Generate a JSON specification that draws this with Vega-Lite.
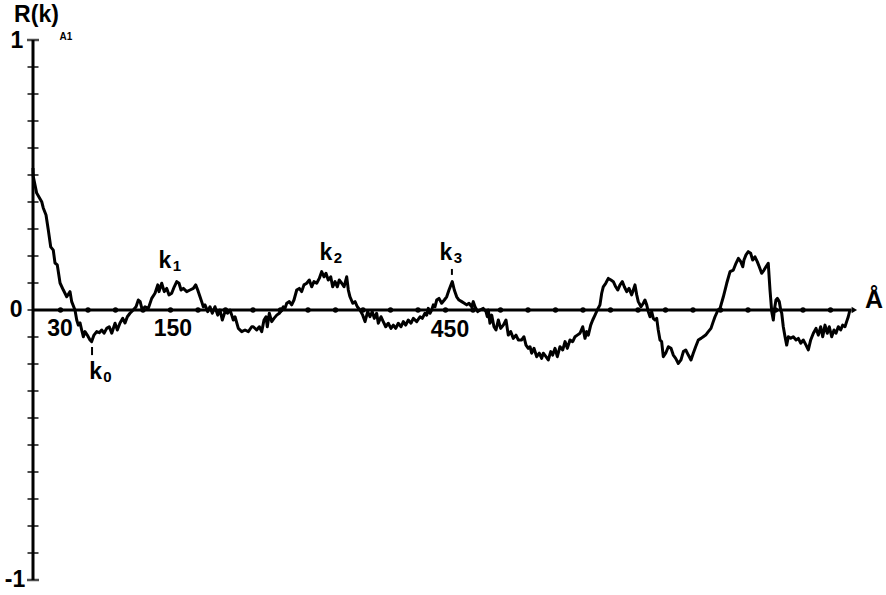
{
  "$schema": "https://vega.github.io/schema/vega-lite/v6.json",
  "width": 825,
  "height": 540,
  "autosize": {"type": "none"},
  "padding": {"left": 33, "top": 40, "right": 28, "bottom": 15},
  "background": "white",
  "config": {"view": {"stroke": null}, "text": {"font": "Liberation Sans", "fontWeight": "bold", "color": "black"}},
  "datasets": {
    "curve": [
      {"k":0,"R":0.526},{"k":0.3,"R":0.494},{"k":4.0,"R":0.433},{"k":9.5,"R":0.401},{"k":11.2,"R":0.378},{"k":14.2,"R":0.352},{"k":16.7,"R":0.296},{"k":19.3,"R":0.234},{"k":22.1,"R":0.222},{"k":24.0,"R":0.174},{"k":26.5,"R":0.167},{"k":29.5,"R":0.1},{"k":33.1,"R":0.074},{"k":36.8,"R":0.049},{"k":40.4,"R":0.068},{"k":42.2,"R":0.031},{"k":45.8,"R":0},{"k":47.7,"R":-0.037},{"k":49.4,"R":-0.056},{"k":51.3,"R":-0.048},{"k":53.1,"R":-0.074},{"k":54.9,"R":-0.099},{"k":56.7,"R":-0.08},{"k":59.2,"R":-0.093},{"k":62.2,"R":-0.111},{"k":64.0,"R":-0.117},{"k":66.5,"R":-0.093},{"k":69.5,"R":-0.08},{"k":72.3,"R":-0.084},{"k":74.9,"R":-0.074},{"k":77.5,"R":-0.086},{"k":80.4,"R":-0.068},{"k":83.2,"R":-0.062},{"k":85.9,"R":-0.086},{"k":89.5,"R":-0.049},{"k":92.0,"R":-0.074},{"k":94.9,"R":-0.048},{"k":97.9,"R":-0.031},{"k":100.4,"R":-0.048},{"k":102.9,"R":-0.025},{"k":105.8,"R":-0.012},{"k":109.4,"R":0},{"k":112.4,"R":0.012},{"k":114.9,"R":0.037},{"k":116.9,"R":0.031},{"k":119.2,"R":0},{"k":122.2,"R":0.012},{"k":125.8,"R":0.006},{"k":129.5,"R":0.043},{"k":133.1,"R":0.062},{"k":136.1,"R":0.093},{"k":137.5,"R":0.068},{"k":140.4,"R":0.099},{"k":143.2,"R":0.068},{"k":145.9,"R":0.08},{"k":148.4,"R":0.056},{"k":151.3,"R":0.062},{"k":154.1,"R":0.086},{"k":156.8,"R":0.105},{"k":159.3,"R":0.099},{"k":161.5,"R":0.074},{"k":164.0,"R":0.08},{"k":167.7,"R":0.068},{"k":171.3,"R":0.074},{"k":174.9,"R":0.08},{"k":177.5,"R":0.093},{"k":179.7,"R":0.074},{"k":182.2,"R":0.049},{"k":184.0,"R":0.031},{"k":185.8,"R":0.012},{"k":187.6,"R":0.019},{"k":190.6,"R":-0.006},{"k":193.1,"R":0.012},{"k":195.6,"R":-0.012},{"k":198.5,"R":0.012},{"k":201.5,"R":-0.019},{"k":204.0,"R":0},{"k":206.5,"R":-0.037},{"k":209.5,"R":-0.006},{"k":212.4,"R":-0.012},{"k":214.9,"R":0},{"k":216.8,"R":-0.019},{"k":218.5,"R":-0.037},{"k":220.4,"R":-0.025},{"k":224.0,"R":-0.068},{"k":227.7,"R":-0.08},{"k":231.3,"R":-0.074},{"k":234.9,"R":-0.08},{"k":238.6,"R":-0.062},{"k":240.3,"R":-0.062},{"k":244.0,"R":-0.074},{"k":246.9,"R":-0.062},{"k":249.5,"R":-0.08},{"k":252.0,"R":-0.037},{"k":254.2,"R":-0.025},{"k":255.6,"R":-0.062},{"k":257.8,"R":-0.012},{"k":260.4,"R":-0.043},{"k":262.9,"R":-0.031},{"k":265.9,"R":-0.019},{"k":268.7,"R":-0.012},{"k":271.3,"R":0},{"k":273.1,"R":0.012},{"k":274.9,"R":0.006},{"k":276.8,"R":0.025},{"k":279.6,"R":0.031},{"k":282.2,"R":0.019},{"k":284.7,"R":0.037},{"k":287.7,"R":0.074},{"k":290.5,"R":0.08},{"k":293.1,"R":0.068},{"k":295.6,"R":0.093},{"k":298.6,"R":0.099},{"k":301.4,"R":0.111},{"k":304.0,"R":0.086},{"k":306.5,"R":0.105},{"k":309.5,"R":0.099},{"k":312.3,"R":0.117},{"k":314.9,"R":0.142},{"k":317.5,"R":0.123},{"k":319.6,"R":0.136},{"k":322.1,"R":0.111},{"k":324.8,"R":0.123},{"k":326.9,"R":0.086},{"k":329.5,"R":0.105},{"k":332.0,"R":0.086},{"k":334.1,"R":0.111},{"k":336.8,"R":0.099},{"k":339.3,"R":0.086},{"k":342.2,"R":0.123},{"k":344.0,"R":0.074},{"k":345.8,"R":0.049},{"k":348.8,"R":0.025},{"k":351.3,"R":0.031},{"k":353.8,"R":0.012},{"k":356.7,"R":0},{"k":359.7,"R":-0.019},{"k":362.2,"R":-0.043},{"k":365.1,"R":-0.006},{"k":367.6,"R":-0.025},{"k":370.1,"R":-0.006},{"k":372.3,"R":-0.031},{"k":374.9,"R":-0.012},{"k":376.7,"R":-0.049},{"k":379.6,"R":-0.025},{"k":382.1,"R":-0.043},{"k":384.8,"R":-0.062},{"k":387.6,"R":-0.049},{"k":390.5,"R":-0.068},{"k":393.1,"R":-0.056},{"k":395.7,"R":-0.068},{"k":398.5,"R":-0.049},{"k":401.5,"R":-0.062},{"k":404.0,"R":-0.043},{"k":406.6,"R":-0.056},{"k":409.4,"R":-0.037},{"k":412.4,"R":-0.049},{"k":414.9,"R":-0.031},{"k":418.6,"R":-0.043},{"k":422.2,"R":-0.025},{"k":424.7,"R":-0.031},{"k":427.6,"R":-0.012},{"k":429.5,"R":-0.019},{"k":431.2,"R":0.006},{"k":433.1,"R":-0.012},{"k":434.9,"R":0},{"k":436.7,"R":0.019},{"k":438.5,"R":0.012},{"k":440.4,"R":0.037},{"k":442.9,"R":0.043},{"k":445.8,"R":0.025},{"k":448.7,"R":0.037},{"k":451.3,"R":0.049},{"k":453.8,"R":0.074},{"k":456.0,"R":0.093},{"k":457.4,"R":0.105},{"k":459.6,"R":0.074},{"k":462.2,"R":0.049},{"k":464.7,"R":0.037},{"k":467.7,"R":0.031},{"k":470.5,"R":0.025},{"k":473.1,"R":0.019},{"k":475.6,"R":0.025},{"k":478.6,"R":0.012},{"k":480.3,"R":0.031},{"k":482.2,"R":0.012},{"k":485.1,"R":-0.006},{"k":487.6,"R":0},{"k":491.2,"R":0.006},{"k":494.2,"R":-0.006},{"k":495.6,"R":-0.025},{"k":496.7,"R":0},{"k":498.5,"R":-0.049},{"k":500.4,"R":-0.019},{"k":502.9,"R":-0.062},{"k":505.1,"R":-0.074},{"k":507.6,"R":-0.037},{"k":510.2,"R":-0.068},{"k":513.1,"R":-0.056},{"k":516.0,"R":-0.037},{"k":518.5,"R":-0.093},{"k":521.1,"R":-0.08},{"k":524.0,"R":-0.105},{"k":526.9,"R":-0.093},{"k":529.4,"R":-0.111},{"k":533.1,"R":-0.111},{"k":535.6,"R":-0.099},{"k":537.8,"R":-0.13},{"k":540.3,"R":-0.142},{"k":542.2,"R":-0.136},{"k":544.0,"R":-0.16},{"k":546.5,"R":-0.142},{"k":549.5,"R":-0.173},{"k":552.3,"R":-0.16},{"k":554.9,"R":-0.179},{"k":556.7,"R":-0.16},{"k":559.6,"R":-0.173},{"k":562.1,"R":-0.185},{"k":564.8,"R":-0.154},{"k":566.9,"R":-0.167},{"k":569.5,"R":-0.142},{"k":572.0,"R":-0.173},{"k":574.9,"R":-0.136},{"k":577.9,"R":-0.148},{"k":580.4,"R":-0.117},{"k":582.9,"R":-0.142},{"k":585.8,"R":-0.111},{"k":588.8,"R":-0.117},{"k":591.3,"R":-0.099},{"k":593.8,"R":-0.093},{"k":596.7,"R":-0.086},{"k":599.7,"R":-0.062},{"k":602.2,"R":-0.105},{"k":604.0,"R":-0.08},{"k":605.8,"R":-0.093},{"k":608.4,"R":-0.056},{"k":610.6,"R":-0.037},{"k":613.1,"R":-0.019},{"k":615.6,"R":0},{"k":618.5,"R":0.019},{"k":620.4,"R":0.062},{"k":622.1,"R":0.086},{"k":624.8,"R":0.099},{"k":627.6,"R":0.117},{"k":630.5,"R":0.111},{"k":633.1,"R":0.105},{"k":635.7,"R":0.086},{"k":637.9,"R":0.074},{"k":640.4,"R":0.093},{"k":642.9,"R":0.105},{"k":645.1,"R":0.086},{"k":647.7,"R":0.068},{"k":650.2,"R":0.08},{"k":653.1,"R":0.056},{"k":654.9,"R":0.074},{"k":656.7,"R":0.093},{"k":658.6,"R":0.056},{"k":660.3,"R":0.031},{"k":663.3,"R":0.012},{"k":665.8,"R":0.025},{"k":667.6,"R":0.037},{"k":669.5,"R":0.019},{"k":671.2,"R":-0.006},{"k":673.1,"R":-0.025},{"k":674.9,"R":-0.006},{"k":676.7,"R":-0.031},{"k":678.5,"R":-0.037},{"k":680.4,"R":-0.031},{"k":682.1,"R":-0.074},{"k":684.0,"R":-0.111},{"k":685.8,"R":-0.117},{"k":687.6,"R":-0.173},{"k":690.2,"R":-0.16},{"k":693.1,"R":-0.136},{"k":696.0,"R":-0.142},{"k":698.5,"R":-0.167},{"k":701.1,"R":-0.179},{"k":704.0,"R":-0.198},{"k":706.9,"R":-0.185},{"k":709.5,"R":-0.154},{"k":712.1,"R":-0.148},{"k":714.9,"R":-0.167},{"k":717.8,"R":-0.185},{"k":720.3,"R":-0.16},{"k":722.9,"R":-0.136},{"k":725.8,"R":-0.111},{"k":728.7,"R":-0.105},{"k":731.2,"R":-0.099},{"k":733.8,"R":-0.093},{"k":736.7,"R":-0.08},{"k":739.6,"R":-0.068},{"k":742.1,"R":-0.043},{"k":744.0,"R":-0.025},{"k":747.3,"R":0},{"k":749.5,"R":0.006},{"k":753.1,"R":0.049},{"k":756.8,"R":0.099},{"k":760.4,"R":0.142},{"k":764.0,"R":0.148},{"k":766.9,"R":0.173},{"k":769.5,"R":0.191},{"k":772.1,"R":0.179},{"k":774.3,"R":0.16},{"k":775.6,"R":0.185},{"k":777.8,"R":0.204},{"k":780.3,"R":0.216},{"k":782.9,"R":0.21},{"k":785.1,"R":0.185},{"k":787.6,"R":0.197},{"k":790.1,"R":0.179},{"k":792.3,"R":0.16},{"k":794.9,"R":0.136},{"k":797.5,"R":0.148},{"k":799.6,"R":0.16},{"k":802.1,"R":0.173},{"k":804.0,"R":0.074},{"k":805.9,"R":-0.006},{"k":807.6,"R":-0.037},{"k":808.7,"R":0},{"k":810.5,"R":0.037},{"k":812.0,"R":0.043},{"k":814.1,"R":0.031},{"k":815.7,"R":0},{"k":816.8,"R":-0.012},{"k":818.5,"R":-0.062},{"k":820.4,"R":-0.099},{"k":822.2,"R":-0.13},{"k":824.0,"R":-0.099},{"k":826.6,"R":-0.105},{"k":829.4,"R":-0.099},{"k":832.4,"R":-0.111},{"k":834.9,"R":-0.105},{"k":837.5,"R":-0.123},{"k":840.3,"R":-0.111},{"k":843.3,"R":-0.13},{"k":845.8,"R":-0.148},{"k":848.4,"R":-0.111},{"k":851.3,"R":-0.086},{"k":854.2,"R":-0.068},{"k":856.7,"R":-0.093},{"k":859.3,"R":-0.062},{"k":861.5,"R":-0.099},{"k":864.0,"R":-0.056},{"k":866.5,"R":-0.086},{"k":868.7,"R":-0.062},{"k":871.3,"R":-0.099},{"k":873.8,"R":-0.074},{"k":876.0,"R":-0.086},{"k":878.5,"R":-0.062},{"k":881.1,"R":-0.074},{"k":883.3,"R":-0.056},{"k":885.8,"R":-0.062},{"k":887.6,"R":-0.043},{"k":889.4,"R":-0.025},{"k":891.2,"R":0}
    ],
    "yticks": [
      {"k":0,"R":-0.9},{"k":0,"R":-0.8},{"k":0,"R":-0.7},{"k":0,"R":-0.6},{"k":0,"R":-0.5},{"k":0,"R":-0.4},{"k":0,"R":-0.3},{"k":0,"R":-0.2},{"k":0,"R":-0.1},{"k":0,"R":0},{"k":0,"R":0.1},{"k":0,"R":0.2},{"k":0,"R":0.3},{"k":0,"R":0.4},{"k":0,"R":0.5},{"k":0,"R":0.6},{"k":0,"R":0.7},{"k":0,"R":0.8},{"k":0,"R":0.9}
    ],
    "yends": [
      {"k":0,"R":-1},{"k":0,"R":1}
    ],
    "xdots": [
      {"k":30,"R":0},{"k":60,"R":0},{"k":90,"R":0},{"k":120,"R":0},{"k":150,"R":0},{"k":180,"R":0},{"k":210,"R":0},{"k":240,"R":0},{"k":270,"R":0},{"k":300,"R":0},{"k":330,"R":0},{"k":360,"R":0},{"k":390,"R":0},{"k":420,"R":0},{"k":450,"R":0},{"k":480,"R":0},{"k":510,"R":0},{"k":540,"R":0},{"k":570,"R":0},{"k":600,"R":0},{"k":630,"R":0},{"k":660,"R":0},{"k":690,"R":0},{"k":720,"R":0},{"k":750,"R":0},{"k":780,"R":0},{"k":810,"R":0},{"k":840,"R":0},{"k":870,"R":0}
    ],
    "labels": [
      {"k":-18.5,"R":0,"txt":"0"},
      {"k":-17.5,"R":0.996,"txt":"1"},
      {"k":-19.6,"R":-1.0,"txt":"-1"},
      {"k":3.8,"R":1.093,"txt":"R(k)"},
      {"k":29.5,"R":-0.07,"txt":"30"},
      {"k":152.7,"R":-0.07,"txt":"150"},
      {"k":454.9,"R":-0.074,"txt":"450"}
    ],
    "klabels": [
      {"k":68.2,"R":-0.228,"sub":"0"},
      {"k":144,"R":0.18,"sub":"1"},
      {"k":319.6,"R":0.211,"sub":"2"},
      {"k":450.5,"R":0.211,"sub":"3"}
    ],
    "kticks": [
      {"k":64.4,"R":-0.137,"R2":-0.167},
      {"k":457,"R":0.152,"R2":0.13}
    ]
  },
  "encoding": {
    "x": {"field": "k", "type": "quantitative", "scale": {"domain": [0, 900], "nice": false, "zero": false}, "axis": null},
    "y": {"field": "R", "type": "quantitative", "scale": {"domain": [-1, 1], "nice": false, "zero": false}, "axis": null}
  },
  "layer": [
    {
      "data": {"values": [{"k": 0, "R": -1, "R2": 1}]},
      "mark": {"type": "rule", "strokeWidth": 3, "color": "black"},
      "encoding": {"y2": {"field": "R2"}}
    },
    {
      "data": {"values": [{"k": 0, "k2": 893, "R": 0}]},
      "mark": {"type": "rule", "strokeWidth": 3, "color": "black"},
      "encoding": {"x2": {"field": "k2"}}
    },
    {
      "data": {"name": "yticks"},
      "mark": {"type": "tick", "orient": "horizontal", "size": 11, "thickness": 2, "color": "black"}
    },
    {
      "data": {"name": "yends"},
      "mark": {"type": "tick", "orient": "horizontal", "size": 12, "thickness": 2.5, "color": "black"}
    },
    {
      "data": {"name": "xdots"},
      "mark": {"type": "point", "filled": true, "size": 28, "color": "black", "opacity": 1}
    },
    {
      "data": {"values": [{"k": 896, "R": 0}]},
      "mark": {"type": "point", "shape": "triangle-right", "filled": true, "size": 40, "color": "black", "opacity": 1}
    },
    {
      "data": {"name": "curve"},
      "mark": {"type": "line", "color": "black", "strokeWidth": 3, "strokeJoin": "round"}
    },
    {
      "data": {"name": "kticks"},
      "mark": {"type": "rule", "strokeWidth": 2, "color": "black"},
      "encoding": {"y2": {"field": "R2"}}
    },
    {
      "data": {"name": "labels"},
      "mark": {"type": "text", "fontSize": 23, "align": "center", "baseline": "middle"},
      "encoding": {"text": {"field": "txt"}}
    },
    {
      "data": {"values": [{"k": 917.5, "R": 0.037, "txt": "Å"}]},
      "mark": {"type": "text", "fontSize": 25, "align": "center", "baseline": "middle"},
      "encoding": {"text": {"field": "txt"}}
    },
    {
      "data": {"values": [{"k": 36, "R": 1.011, "txt": "A1"}]},
      "mark": {"type": "text", "fontSize": 10, "align": "center", "baseline": "middle"},
      "encoding": {"text": {"field": "txt"}}
    },
    {
      "data": {"name": "klabels"},
      "mark": {"type": "text", "fontSize": 23, "align": "center", "baseline": "middle", "text": "k"}
    },
    {
      "data": {"name": "klabels"},
      "mark": {"type": "text", "fontSize": 15, "align": "center", "baseline": "middle", "dx": 12, "dy": 5},
      "encoding": {"text": {"field": "sub"}}
    }
  ]
}
